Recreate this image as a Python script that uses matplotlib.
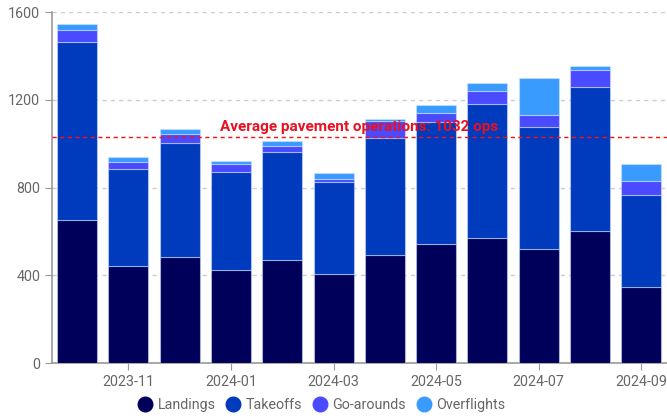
import numpy as np
import matplotlib.pyplot as plt

plt.rcParams['font.family'] = ['Roboto', 'DejaVu Sans']

# Data
months = ['2023-10', '2023-11', '2023-12', '2024-01', '2024-02', '2024-03',
          '2024-04', '2024-05', '2024-06', '2024-07', '2024-08', '2024-09']
landings = [654, 441, 484, 427, 469, 408, 493, 542, 571, 522, 601, 347]
takeoffs = [808, 446, 521, 446, 493, 417, 534, 558, 612, 554, 659, 418]
go_arounds = [58, 31, 39, 36, 30, 15, 76, 42, 56, 55, 76, 67]
overflights = [28, 21, 24, 11, 20, 27, 8, 37, 36, 170, 18, 77]
avg_ops = 1032

colors = ['#00005a', '#003bbd', '#4a4aff', '#3a9bff']
labels = ['Landings', 'Takeoffs', 'Go-arounds', 'Overflights']

fig = plt.figure(figsize=(6.67, 4.19), dpi=100)
ax = fig.add_axes([0.078, 0.133, 0.922, 0.838])

x = np.arange(len(months))
bottom = np.zeros(len(months))
for vals, c, lab in zip([landings, takeoffs, go_arounds, overflights], colors, labels):
    ax.bar(x, vals, 0.78, bottom=bottom, color=c, label=lab,
           edgecolor=(0.85, 0.9, 1, 0.5), linewidth=0.8, zorder=3)
    bottom += np.array(vals)

# average line
ax.axhline(avg_ops, color='#ff1010', linestyle=(0, (3, 2.5)), linewidth=1, zorder=4)
ax.text(0.5, avg_ops + 12, f'Average pavement operations: {avg_ops} ops',
        transform=ax.get_yaxis_transform(), ha='center', va='bottom',
        color='#ea1020', fontsize=11, fontweight='bold', zorder=5)

ax.set_xlim(-0.49, 11.5)
ax.set_ylim(0, 1600)
ax.set_yticks([0, 400, 800, 1200, 1600])
ax.set_xticks(x[1::2])
ax.set_xticklabels(months[1::2])

ax.grid(axis='y', color='#cccccc', linestyle=(0, (3, 3)), linewidth=1, zorder=0)
for s in ['top', 'right']:
    ax.spines[s].set_visible(False)
for s in ['left', 'bottom']:
    ax.spines[s].set_color('#999999')
    ax.spines[s].set_linewidth(1.2)
ax.tick_params(colors='#999999', labelcolor='#666666', labelsize=10.3, length=5)

handles = [plt.Line2D([], [], marker='o', linestyle='', markersize=10.5,
                      markerfacecolor=c, markeredgecolor=c) for c in colors]
fig.legend(handles, labels, loc='lower center', bbox_to_anchor=(0.482, -0.015),
           ncol=4, frameon=False, fontsize=10.3, handlelength=1.0,
           handletextpad=0.35, columnspacing=0.75, labelcolor='#666666')

fig.savefig('out.png', dpi=100)
